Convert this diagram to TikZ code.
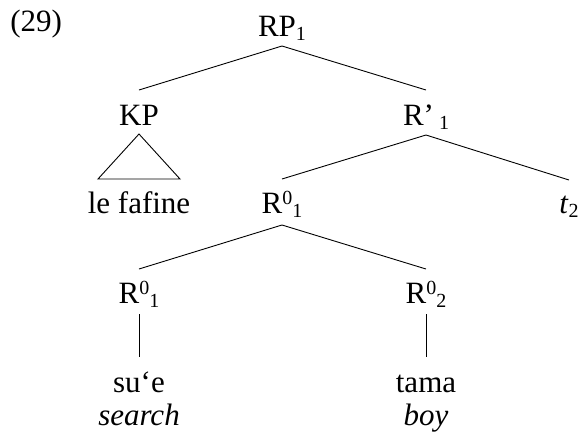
\documentclass[tikz,border=0pt]{standalone}
\usepackage{fontspec}
\setmainfont{Liberation Serif}
\usetikzlibrary{calc}
\newcommand\supx[1]{\raisebox{4.5pt}{\fontsize{10}{11}\selectfont #1}}
\newcommand\subx[1]{\raisebox{-2pt}{\fontsize{10}{11}\selectfont #1}}
\begin{document}
\begin{tikzpicture}[x=0.5pt,y=-0.5pt,
  lbl/.style={inner sep=0pt, anchor=base, font=\fontsize{15.5}{18}\selectfont},
  br/.style={line width=0.45pt}]
\useasboundingbox (0,0) rectangle (579,435);
% labels
\node[lbl, anchor=base west] (ex) at (10,31) {(29)};
\node[lbl] (rp) at (282,36) {RP\subx{1}};
\node[lbl] (kp) at (139,125) {KP};
\node[lbl] (r1) at (426,125) {R’\kern2.5pt\subx{1}};
\node[lbl] (leff) at (139,213) {le fafine};
\node[lbl] (r0a) at (282,213) {R\supx{0}\subx{1}};
\node[lbl] (t2) at (569,213) {\textit{t}\subx{2}};
\node[lbl] (r0b) at (139,303) {R\supx{0}\subx{1}};
\node[lbl] (r0c) at (426,303) {R\supx{0}\subx{2}};
\node[lbl] (sue) at (139,392) {su‘e};
\node[lbl] (tama) at (426,392) {tama};
\node[lbl] (search) at (139,425) {\textit{search}};
\node[lbl] (boy) at (426,425) {\textit{boy}};
% branches
\draw[br] ($(rp.base)+(0,10)$) -- ($(kp.base)+(0,-35)$);
\draw[br] ($(rp.base)+(0,10)$) -- ($(r1.base)+(0,-35)$);
\draw[br] ($(kp.base)+(0,9)$) -- ($(leff.base)+(-41,-34)$) -- ($(leff.base)+(41,-34)$) -- cycle;
\draw[br] ($(r1.base)+(0,10)$) -- ($(r0a.base)+(0,-34)$);
\draw[br] ($(r1.base)+(0,10)$) -- ($(t2.base)+(0,-33)$);
\draw[br] ($(r0a.base)+(0,12)$) -- ($(r0b.base)+(0,-34)$);
\draw[br] ($(r0a.base)+(0,12)$) -- ($(r0c.base)+(0,-34)$);
\draw[br] ($(r0b.base)+(0,11)$) -- ($(sue.base)+(0,-35)$);
\draw[br] ($(r0c.base)+(0,11)$) -- ($(tama.base)+(0,-35)$);
\end{tikzpicture}
\end{document}
